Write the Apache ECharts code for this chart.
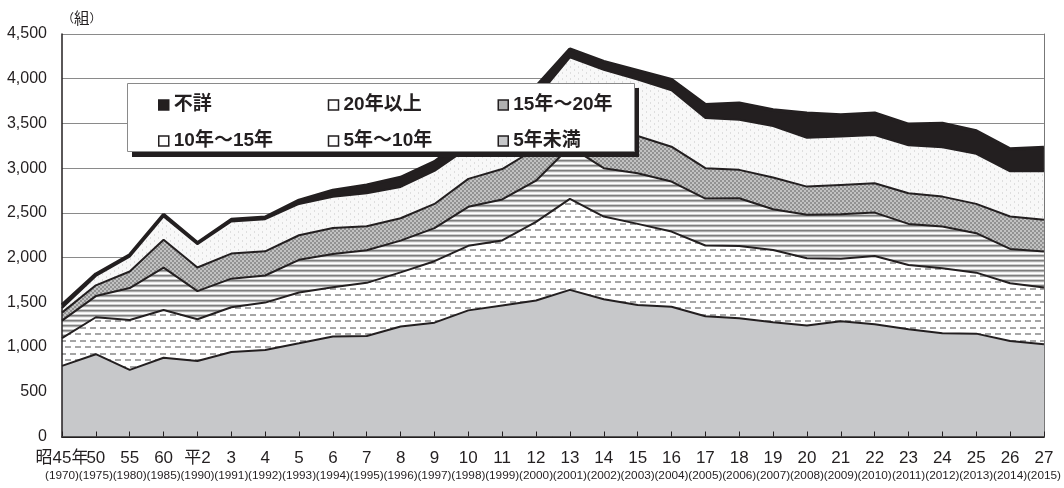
<!DOCTYPE html>
<html>
<head>
<meta charset="utf-8">
<script src="https://cdn.jsdelivr.net/npm/echarts@6/dist/echarts.min.js"></script>
<style>
html,body{margin:0;padding:0;background:#fff;}
#chart{width:1064px;height:488px;}
</style>
</head>
<body>
<div id="chart"></div>
<script>
// 区分
const categories = ['昭45年','50','55','60','平2','3','4','5','6','7','8','9','10','11','12','13','14','15','16','17','18','19','20','21','22','23','24','25','26','27'];
const years = ['1970','1975','1980','1985','1990','1991','1992','1993','1994','1995','1996','1997','1998','1999','2000','2001','2002','2003','2004','2005','2006','2007','2008','2009','2010','2011','2012','2013','2014','2015'];

// 各期間の件数（組）
const under5  = [790,920,745,880,845,945,968,1042,1117,1124,1229,1273,1410,1465,1520,1639,1535,1471,1450,1345,1322,1277,1240,1289,1255,1199,1154,1150,1068,1031];
const y5to10  = [310,413,558,535,466,500,529,567,552,594,606,687,722,727,880,1018,924,906,841,790,809,809,753,697,764,719,727,682,645,634];
const y10to15 = [195,237,357,473,314,320,303,366,371,364,355,369,436,458,460,583,541,567,559,525,533,455,485,499,484,459,466,441,384,402];
const y15to20 = [90,120,185,312,265,280,270,275,290,268,250,271,312,340,360,400,400,416,390,340,317,354,316,328,329,343,335,328,362,355];
const over20  = [50,105,165,260,260,360,360,350,350,370,350,370,350,490,560,600,700,630,630,560,560,575,546,542,538,535,553,559,506,543];
const unknown = [35,20,20,20,15,20,20,40,70,90,105,100,120,130,130,90,90,100,120,150,185,180,275,240,245,235,265,255,250,265];

const ink = '#231f20';
const fontLatin = '"Liberation Sans", Arial, "Noto Sans CJK JP", sans-serif';

function pattern(w, h, draw){
  const c = document.createElement('canvas');
  c.width = w; c.height = h;
  draw(c.getContext('2d'));
  return {image: c, repeat: 'repeat'};
}

// 塗りの柄
const patDash = pattern(10, 13, function(ctx){
  ctx.fillStyle = '#fff'; ctx.fillRect(0,0,10,13);
  ctx.fillStyle = '#a5a5a5';
  ctx.fillRect(0,2,6,2);
  ctx.fillRect(5,8,5,2); ctx.fillRect(0,8,1,2);
});
const patStripe = pattern(4, 5, function(ctx){
  const cols = ['#7e7e7e','#ababab','#ededed','#ffffff','#cfcfcf'];
  cols.forEach(function(c,i){ ctx.fillStyle = c; ctx.fillRect(0,i,4,1); });
});
const patCheck = pattern(4, 4, function(ctx){
  ctx.fillStyle = '#c2c2c2'; ctx.fillRect(0,0,4,4);
  ctx.fillStyle = '#929292';
  ctx.fillRect(0,0,2,2); ctx.fillRect(2,2,2,2);
});
const patLight = pattern(8, 6, function(ctx){
  ctx.fillStyle = '#f8f8f8'; ctx.fillRect(0,0,8,6);
  ctx.fillStyle = '#dedede';
  ctx.fillRect(2,0,1,2); ctx.fillRect(6,3,1,2);
});

const seriesDefs = [
  {name:'5年未満',   data: under5,  fill: '#c7c8ca', icon:'#c7c8ca'},
  {name:'5年～10年', data: y5to10,  fill: patDash,   icon:'#ffffff'},
  {name:'10年～15年',data: y10to15, fill: patStripe, icon:'#ffffff'},
  {name:'15年～20年',data: y15to20, fill: patCheck,  icon:'#b0b0b0'},
  {name:'20年以上',  data: over20,  fill: patLight,  icon:'#ffffff'},
  {name:'不詳',      data: unknown, fill: ink,       icon: ink}
];
const legendOrder = ['不詳','20年以上','15年～20年','10年～15年','5年～10年','5年未満'];

var myChart = echarts.init(document.getElementById('chart'), null, {renderer:'canvas'});
var option = {
  animation: false,
  backgroundColor: '#fff',
  grid: {left: 62, right: 16, top: 34, bottom: 51.5},
  xAxis: [{
    type: 'category',
    data: categories,
    boundaryGap: false,
    axisLine: {show: false},
    axisTick: {show: false},
    axisLabel: {
      interval: 0,
      margin: 12,
      formatter: function(v, i){ return '{a|' + v + '}\n{b|(' + years[i] + ')}'; },
      rich: {
        a: {fontSize: 17, lineHeight: 19, color: ink, fontFamily: fontLatin},
        b: {fontSize: 11.8, lineHeight: 17, color: ink, fontFamily: fontLatin}
      }
    }
  }, {
    type: 'category',
    data: categories,
    boundaryGap: false,
    position: 'bottom',
    z: 10,
    axisLine: {lineStyle: {color: ink, width: 2}},
    axisTick: {show: true, inside: true, length: 5, interval: 0, lineStyle: {color: ink, width: 1}},
    axisLabel: {show: false}
  }, {
    type: 'category',
    data: categories,
    boundaryGap: false,
    position: 'top',
    z: 10,
    axisLine: {lineStyle: {color: '#555', width: 1}},
    axisTick: {show: false},
    axisLabel: {show: false}
  }],
  yAxis: [{
    type: 'value',
    min: 0, max: 4500, interval: 500,
    name: '{p|（}{k|組}{p|）}',
    nameLocation: 'end',
    nameGap: 8,
    nameTextStyle: {
      align: 'left', verticalAlign: 'bottom',
      rich: {
        p: {fontSize: 12, color: ink, fontFamily: '"Noto Sans CJK JP"'},
        k: {fontSize: 15.5, color: ink, fontFamily: '"Noto Sans CJK JP"'}
      }
    },
    axisLine: {show: false},
    axisTick: {show: false},
    axisLabel: {
      margin: 15, fontSize: 16, color: ink, fontFamily: fontLatin,
      formatter: function(v){ return v.toLocaleString('en-US'); }
    },
    splitLine: {lineStyle: {color: '#8a8a8a', width: 1}}
  }, {
    type: 'value',
    min: 0, max: 4500, interval: 500,
    position: 'left',
    z: 10,
    axisLine: {show: true, lineStyle: {color: ink, width: 1.5}},
    axisTick: {show: false},
    axisLabel: {show: false},
    splitLine: {show: false}
  }, {
    type: 'value',
    min: 0, max: 4500, interval: 500,
    position: 'right',
    z: 10,
    axisLine: {show: true, lineStyle: {color: '#777', width: 1}},
    axisTick: {show: false},
    axisLabel: {show: false},
    splitLine: {show: false}
  }],
  legend: {
    left: 153, top: 88, width: 510,
    z: 110,
    icon: 'rect',
    itemWidth: 10, itemHeight: 10, itemGap: 12,
    selectedMode: false,
    textStyle: {fontSize: 19, fontWeight: 'bold', color: ink, fontFamily: fontLatin, width: 142, lineHeight: 24},
    data: legendOrder.map(function(n){
      const d = seriesDefs.find(function(s){ return s.name === n; });
      return {name: n, itemStyle: {color: d.icon, borderColor: ink, borderWidth: 1.5}};
    })
  },
  graphic: {elements: [
    {type: 'rect', z: 100, shape: {x: 132, y: 151, width: 507, height: 6}, style: {fill: ink}},
    {type: 'rect', z: 100, shape: {x: 634, y: 88, width: 5, height: 69}, style: {fill: ink}},
    {type: 'rect', z: 101, shape: {x: 127.5, y: 83.5, width: 507, height: 68}, style: {fill: '#fff', stroke: '#8a8a8a', lineWidth: 1}}
  ]},
  series: seriesDefs.map(function(s, i){
    return {
      name: s.name,
      type: 'line',
      stack: 'total',
      data: s.data,
      symbol: 'none',
      showSymbol: false,
      z: 8 - i,
      emphasis: {disabled: true},
      itemStyle: {color: s.icon},
      lineStyle: {color: ink, width: i === 5 ? 3.5 : 2},
      areaStyle: {color: s.fill, opacity: 1}
    };
  })
};
myChart.setOption(option);
</script>
</body>
</html>
